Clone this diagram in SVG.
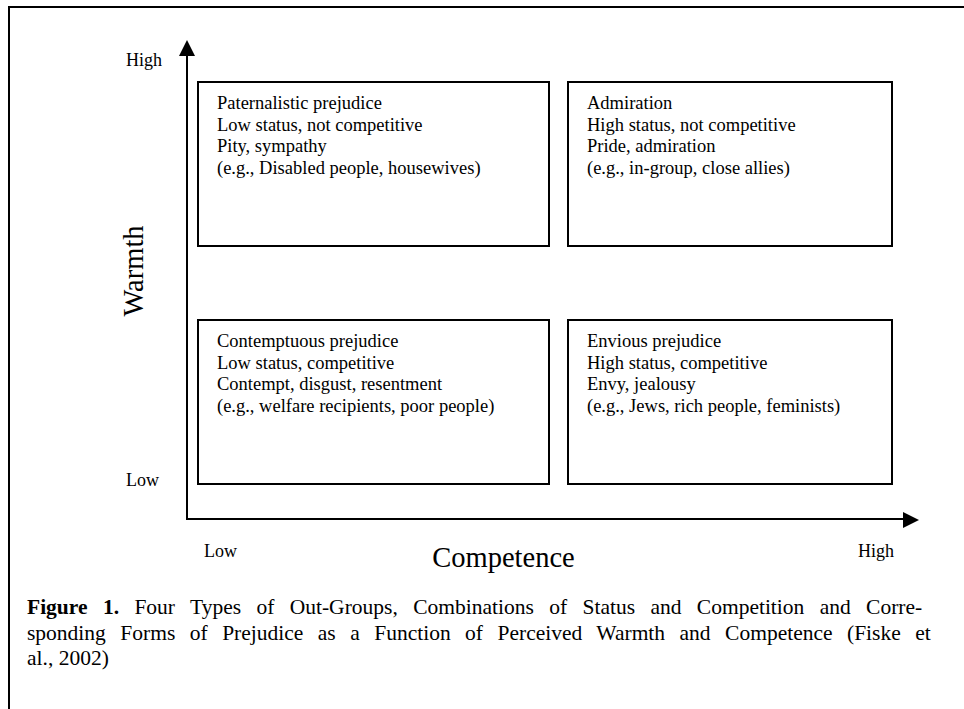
<svg xmlns="http://www.w3.org/2000/svg" width="964" height="709" viewBox="0 0 964 709">
<defs>
<style>
.box{fill:#fff;stroke:#000;stroke-width:2}
.ax{fill:none;stroke:#000;stroke-width:2}
.t{font-family:"Liberation Serif","Times New Roman",serif;font-size:18.5px;fill:#000}
.lab{font-family:"Liberation Serif","Times New Roman",serif;font-size:18px;fill:#000}
.big{font-family:"Liberation Serif","Times New Roman",serif;font-size:28.5px;fill:#000}
.cap{font-family:"Liberation Serif","Times New Roman",serif;font-size:21.5px;fill:#000}
</style>
</defs>
<rect x="0" y="0" width="964" height="709" fill="#fff"/>
<path class="ax" d="M9,709 L9,7 L964,7"/>
<g id="connectors">
<path class="ax" d="M187,519 L187,54"/>
<polygon points="187,40 179,56 195,56" fill="#000"/>
<path class="ax" d="M186,519 L905,519"/>
<polygon points="919,520 903,512 903,528" fill="#000"/>
</g>
<g id="axis-labels">
<text class="lab" x="126" y="66">High</text>
<text class="lab" x="126" y="486">Low</text>
<text class="lab" x="204" y="557">Low</text>
<text class="lab" x="858" y="557">High</text>
<text class="big" x="503.5" y="567" text-anchor="middle">Competence</text>
<text class="big" transform="translate(143,271) rotate(-90)" text-anchor="middle">Warmth</text>
</g>
<g id="paternalistic">
<rect class="box" x="198" y="82" width="351" height="164"/>
<text class="t" x="217" y="109">Paternalistic prejudice</text>
<text class="t" x="217" y="130.5">Low status, not competitive</text>
<text class="t" x="217" y="152">Pity, sympathy</text>
<text class="t" x="217" y="173.5">(e.g., Disabled people, housewives)</text>
</g>
<g id="admiration">
<rect class="box" x="568" y="82" width="324" height="164"/>
<text class="t" x="587" y="109">Admiration</text>
<text class="t" x="587" y="130.5">High status, not competitive</text>
<text class="t" x="587" y="152">Pride, admiration</text>
<text class="t" x="587" y="173.5">(e.g., in-group, close allies)</text>
</g>
<g id="contemptuous">
<rect class="box" x="198" y="320" width="351" height="164"/>
<text class="t" x="217" y="347">Contemptuous prejudice</text>
<text class="t" x="217" y="368.5">Low status, competitive</text>
<text class="t" x="217" y="390">Contempt, disgust, resentment</text>
<text class="t" x="217" y="411.5">(e.g., welfare recipients, poor people)</text>
</g>
<g id="envious">
<rect class="box" x="568" y="320" width="324" height="164"/>
<text class="t" x="587" y="347">Envious prejudice</text>
<text class="t" x="587" y="368.5">High status, competitive</text>
<text class="t" x="587" y="390">Envy, jealousy</text>
<text class="t" x="587" y="411.5">(e.g., Jews, rich people, feminists)</text>
</g>
<g id="caption">
<text class="cap" x="27" y="614" word-spacing="10"><tspan font-weight="bold">Figure 1.</tspan> Four Types of Out-Groups, Combinations of Status and Competition and Corre-</text>
<text class="cap" x="27" y="640" word-spacing="9.1">sponding Forms of Prejudice as a Function of Perceived Warmth and Competence (Fiske et</text>
<text class="cap" x="27" y="665">al., 2002)</text>
</g>
</svg>
